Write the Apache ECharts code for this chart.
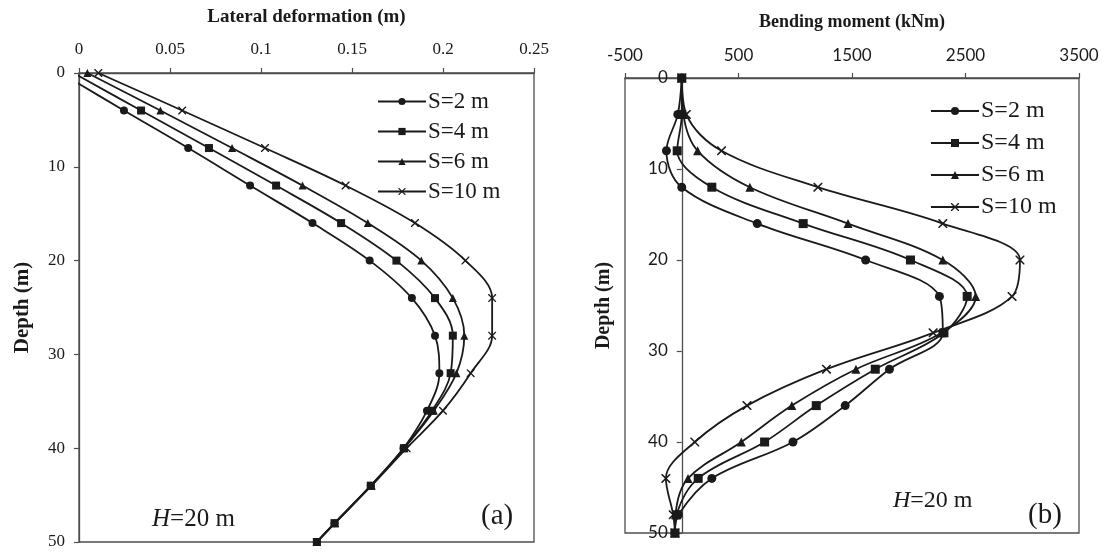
<!DOCTYPE html>
<html>
<head>
<meta charset="utf-8">
<script src="https://cdn.jsdelivr.net/npm/echarts@6/dist/echarts.min.js"></script>
<style>
  html, body { margin: 0; padding: 0; background: #fff; }
  #chart { width: 1105px; height: 552px; }
</style>
</head>
<body>
<div id="chart"></div>
<script>
// Pile depth (m) at which results are reported
const depths = [0, 4, 8, 12, 16, 20, 24, 28, 32, 36, 40, 44, 48, 50];

// Series names (pile spacing S)
const seriesNames = ['S=2 m', 'S=4 m', 'S=6 m', 'S=10 m'];

// (a) Lateral deformation (m)
const defS2  = [-0.010, 0.0247, 0.0600, 0.0940, 0.1283, 0.1597, 0.1829, 0.1956, 0.1980, 0.1912, 0.1783, 0.1603, 0.1404, 0.1307];
const defS4  = [-0.003, 0.0341, 0.0714, 0.1083, 0.1440, 0.1744, 0.1956, 0.2054, 0.2042, 0.1940, 0.1785, 0.1603, 0.1404, 0.1307];
const defS6  = [0.0046, 0.0447, 0.0841, 0.1228, 0.1587, 0.1881, 0.2054, 0.2117, 0.2074, 0.1950, 0.1787, 0.1605, 0.1405, 0.1307];
const defS10 = [0.0106, 0.0567, 0.1022, 0.1465, 0.1846, 0.2123, 0.2270, 0.2270, 0.2152, 0.2000, 0.1800, 0.1607, 0.1406, 0.1307];

// (b) Bending moment (kNm)
const momS2  = [0, -35, -135, 0, 665, 1620, 2270, 2300, 1830, 1440, 980, 265, -30, -60];
const momS4  = [0, 0, -40, 265, 1070, 2015, 2515, 2310, 1705, 1185, 730, 145, -45, -60];
const momS6  = [0, 15, 140, 600, 1465, 2300, 2590, 2290, 1535, 970, 525, 55, -55, -60];
const momS10 = [0, 40, 350, 1200, 2300, 2980, 2910, 2215, 1275, 575, 115, -140, -75, -60];

// Axis tick values
const defTicks = [0, 0.05, 0.1, 0.15, 0.2, 0.25];
const momTicks = [-500, 500, 1500, 2500, 3500];
const depthTicks = [0, 10, 20, 30, 40, 50];

const crossPath = 'path://M0,0 L1.2,0 L5,3.8 L8.8,0 L10,0 L10,1.2 L6.2,5 L10,8.8 L10,10 L8.8,10 L5,6.2 L1.2,10 L0,10 L0,8.8 L3.8,5 L0,1.2 Z';
const symbols = ['circle', 'rect', 'triangle', crossPath];
const sizesA = [8, 8, 8, 8];
const sizesB = [9, 9, 9, 9];

const serif = '"Liberation Serif", "DejaVu Serif", serif';
const sans = 'Lato, "Liberation Sans", sans-serif';
const ink = '#1a1a1a';
const frame = '#4d4d4d';

// Plot boxes
const boxA = { left: 79, top: 73, width: 455, height: 469 };
const boxB = { left: 625, top: 78, width: 454, height: 455 };
const momMin = -500, momMax = 3500;

function pairs(xs) {
  return xs.map((v, i) => [v, depths[i]]);
}

function makeSeries(values, gridIdx, sizes) {
  return values.map((vals, k) => ({
    type: 'line',
    name: seriesNames[k],
    xAxisIndex: gridIdx,
    yAxisIndex: gridIdx,
    data: pairs(vals),
    smooth: 0.35,
    symbol: symbols[k],
    symbolSize: sizes[k],
    showAllSymbol: true,
    clip: true,
    lineStyle: { color: ink, width: 1.8 },
    itemStyle: { color: ink, borderWidth: 0 },
    emphasis: { disabled: true },
    animation: false
  }));
}

// The depth axis of panel (b) runs through zero moment, inside the box
const zeroShiftB = -(0 - momMin) / (momMax - momMin) * boxB.width;

const chart = echarts.init(document.getElementById('chart'), null, { renderer: 'canvas' });

const option = {
  backgroundColor: '#ffffff',
  animation: false,
  grid: [
    Object.assign({ show: true, borderColor: frame, borderWidth: 1.3, containLabel: false, outerBoundsMode: 'none' }, boxA),
    Object.assign({ show: true, borderColor: frame, borderWidth: 1.3, containLabel: false, outerBoundsMode: 'none' }, boxB)
  ],
  xAxis: [
    {
      gridIndex: 0, type: 'value', position: 'top',
      min: 0, max: 0.25, interval: 0.05,
      name: 'Lateral deformation (m)', nameLocation: 'middle', nameGap: 46,
      nameTextStyle: { fontFamily: serif, fontWeight: 'bold', fontSize: 19, color: ink },
      axisLine: { show: true, onZero: false, lineStyle: { color: frame, width: 1.3 } },
      axisTick: { show: true, inside: false, length: 5, lineStyle: { color: frame, width: 1.2 },
                  customValues: defTicks },
      axisLabel: { fontFamily: serif, fontSize: 17, color: ink, margin: 15, customValues: defTicks,
                   formatter: v => String(+v.toFixed(2)) },
      splitLine: { show: false }
    },
    {
      gridIndex: 1, type: 'value', position: 'top',
      min: momMin, max: momMax, interval: 500,
      name: 'Bending moment (kNm)', nameLocation: 'middle', nameGap: 47,
      nameTextStyle: { fontFamily: serif, fontWeight: 'bold', fontSize: 18, color: ink },
      axisLine: { show: true, onZero: false, lineStyle: { color: frame, width: 1.3 } },
      axisTick: { show: true, inside: false, length: 5, lineStyle: { color: frame, width: 1.2 },
                  customValues: momTicks },
      axisLabel: { fontFamily: sans, fontSize: 17, color: ink, margin: 14, customValues: momTicks,
                   formatter: v => String(v) },
      splitLine: { show: false }
    }
  ],
  yAxis: [
    {
      gridIndex: 0, type: 'value', inverse: true,
      min: 0, max: 50, interval: 10,
      name: 'Depth (m)', nameLocation: 'middle', nameGap: 46, nameRotate: 90,
      nameTextStyle: { fontFamily: serif, fontWeight: 'bold', fontSize: 21, color: ink },
      axisLine: { show: true, onZero: false, lineStyle: { color: frame, width: 1.3 } },
      axisTick: { show: true, inside: false, length: 5, lineStyle: { color: frame, width: 1.2 },
                  customValues: depthTicks },
      axisLabel: { fontFamily: serif, fontSize: 17, color: ink, margin: 14, customValues: depthTicks },
      splitLine: { show: false }
    },
    {
      gridIndex: 1, type: 'value', inverse: true,
      min: 0, max: 50, interval: 10,
      offset: zeroShiftB,
      name: 'Depth (m)', nameLocation: 'middle', nameRotate: 90,
      nameGap: 68,
      nameTextStyle: { fontFamily: serif, fontWeight: 'bold', fontSize: 20, color: ink },
      axisLine: { show: true, onZero: false, lineStyle: { color: frame, width: 1.3 } },
      axisTick: { show: true, inside: false, length: 5, lineStyle: { color: frame, width: 1.2 },
                  customValues: depthTicks },
      axisLabel: { fontFamily: sans, fontSize: 17, color: ink, margin: 14, customValues: depthTicks },
      splitLine: { show: false }
    }
  ],
  legend: [
    {
      orient: 'vertical', left: 372, top: 85,
      data: seriesNames, itemWidth: 48, itemHeight: 9, itemGap: 7,
      selectedMode: false,
      textStyle: { fontFamily: serif, fontSize: 23, color: ink, lineHeight: 23, padding: [0, 0, 0, -3] }
    },
    {
      orient: 'vertical', left: 925, top: 94,
      data: seriesNames, itemWidth: 48, itemHeight: 10, itemGap: 8,
      selectedMode: false,
      textStyle: { fontFamily: serif, fontSize: 24, color: ink, lineHeight: 24, padding: [0, 0, 0, -3] }
    }
  ],
  graphic: [
    { type: 'text', left: 152, top: 507, silent: true,
      style: { text: '{i|H}=20 m', fontFamily: serif, fontSize: 25, fill: ink,
               rich: { i: { fontStyle: 'italic', fontFamily: serif, fontSize: 25, fill: ink } } } },
    { type: 'text', left: 481, top: 502, silent: true,
      style: { text: '(a)', fontFamily: serif, fontSize: 29, fill: ink } },
    { type: 'text', left: 893, top: 489, silent: true,
      style: { text: '{i|H}=20 m', fontFamily: serif, fontSize: 24, fill: ink,
               rich: { i: { fontStyle: 'italic', fontFamily: serif, fontSize: 24, fill: ink } } } },
    { type: 'text', left: 1028, top: 501, silent: true,
      style: { text: '(b)', fontFamily: serif, fontSize: 29, fill: ink } }
  ],
  series: [
    ...makeSeries([defS2, defS4, defS6, defS10], 0, sizesA),
    ...makeSeries([momS2, momS4, momS6, momS10], 1, sizesB)
  ]
};

chart.setOption(option);
</script>
</body>
</html>
